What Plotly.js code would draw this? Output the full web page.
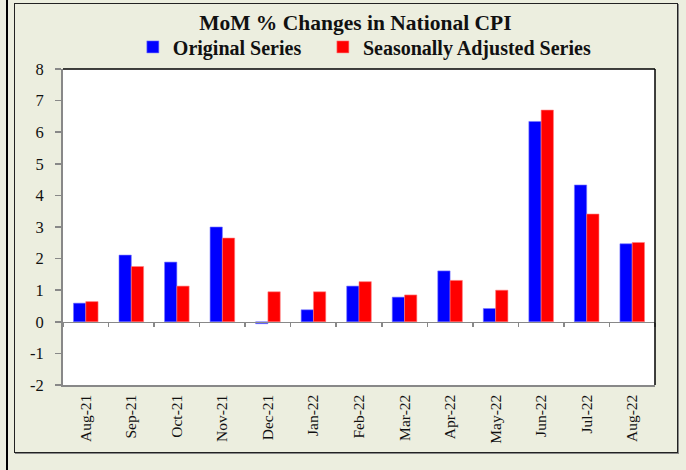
<!DOCTYPE html>
<html>
<head>
<meta charset="utf-8">
<script src="https://cdn.plot.ly/plotly-3.0.1.min.js"></script>
<style>
  html, body { margin: 0; padding: 0; width: 686px; height: 470px; background: #ECEEDF; overflow: hidden; }
  #vline { position: absolute; left: 6px; top: 0; width: 2px; height: 470px; background: #000; }
  #frame { position: absolute; left: 14px; top: 3px; width: 662px; height: 448px; border: 1.5px solid #222; box-shadow: 1px 1px 0 #888; }
  #chart { position: absolute; left: 0; top: 0; width: 686px; height: 470px; }
</style>
</head>
<body>
<div id="vline"></div>
<div id="frame"></div>
<div id="chart"></div>
<script>
const months = ["Aug-21","Sep-21","Oct-21","Nov-21","Dec-21","Jan-22","Feb-22","Mar-22","Apr-22","May-22","Jun-22","Jul-22","Aug-22"];
const originalSeries = [0.59, 2.11, 1.89, 3.00, -0.06, 0.38, 1.13, 0.78, 1.61, 0.42, 6.34, 4.33, 2.47];
const seasonallyAdjusted = [0.64, 1.75, 1.13, 2.65, 0.95, 0.95, 1.27, 0.85, 1.31, 1.00, 6.70, 3.41, 2.51];
const yTicks = [-2, -1, 0, 1, 2, 3, 4, 5, 6, 7, 8];
const yTickLabels = ["-2", "-1", "0", "1", "2", "3", "4", "5", "6", "7", "8"];

const serif = "Liberation Serif, DejaVu Serif, serif";
const legendFont = { family: serif, size: 20, color: "#111", weight: "bold" };

const traces = [
  { type: "bar", name: "Original Series", x: months, y: originalSeries, legend: "legend",
    marker: { color: "#0000FF", line: { color: "#7777FF", width: 0.6 } }, xaxis: "x", yaxis: "y" },
  { type: "bar", name: "Seasonally Adjusted Series", x: months, y: seasonallyAdjusted, legend: "legend2",
    marker: { color: "#FF0000", line: { color: "#FF8080", width: 0.6 } }, xaxis: "x", yaxis: "y" },
  { type: "scatter", mode: "markers", x: months, y: months.map(() => null), showlegend: false,
    hoverinfo: "skip", xaxis: "x2", yaxis: "y" }
];

const layout = {
  width: 686, height: 470,
  paper_bgcolor: "rgba(0,0,0,0)",
  plot_bgcolor: "#FFFFFF",
  margin: { l: 63, r: 31, t: 69, b: 85 },
  title: { text: "MoM % Changes in National CPI", xref: "container", x: 0.518, xanchor: "center",
           yref: "container", y: 0.952, yanchor: "middle",
           font: { family: serif, size: 21.5, color: "#111", weight: "bold" } },
  showlegend: true,
  legend: { orientation: "h", xref: "paper", x: 0.118, xanchor: "left", y: 1.07, yanchor: "middle",
            font: legendFont, bgcolor: "rgba(0,0,0,0)", itemwidth: 30 },
  legend2: { orientation: "h", xref: "paper", x: 0.439, xanchor: "left", y: 1.07, yanchor: "middle",
            font: legendFont, bgcolor: "rgba(0,0,0,0)", itemwidth: 30 },
  barmode: "group", bargap: 0.46, bargroupgap: 0,
  xaxis: { type: "category", range: [-0.5, 12.5], anchor: "free", position: 0.2,
           showticklabels: false, ticks: "outside", tickson: "boundaries", ticklen: 4, tickwidth: 1.5,
           tickcolor: "#888", showline: true, linecolor: "#888", linewidth: 1.5, showgrid: false, zeroline: false,
           fixedrange: true },
  xaxis2: { type: "category", overlaying: "x", anchor: "y", side: "bottom", range: [-0.5, 12.5],
            categoryorder: "array", categoryarray: months,
            showticklabels: true, tickangle: -90, ticks: "", showline: true, linecolor: "#888", linewidth: 1.5,
            showgrid: false, zeroline: false, ticklabelstandoff: 2,
            tickfont: { family: serif, size: 15.5, color: "#111" } },
  yaxis: { range: [-2, 8], tickvals: yTicks, ticktext: yTickLabels, ticks: "outside", ticklen: 6, tickwidth: 1.5, tickcolor: "#888",
           showline: true, linecolor: "#888", linewidth: 2, showgrid: false, zeroline: false, ticklabelstandoff: 8,
           tickfont: { family: serif, size: 16.5, color: "#111" } },
  shapes: [
    { type: "line", xref: "x domain", yref: "y domain", x0: 0, x1: 1, y0: 1, y1: 1, line: { color: "#000", width: 1.5 } },
    { type: "line", xref: "x domain", yref: "y domain", x0: 1, x1: 1, y0: 0, y1: 1, line: { color: "#000", width: 1.5 } }
  ]
};

Plotly.newPlot("chart", traces, layout, { staticPlot: true, displayModeBar: false });
</script>
</body>
</html>
